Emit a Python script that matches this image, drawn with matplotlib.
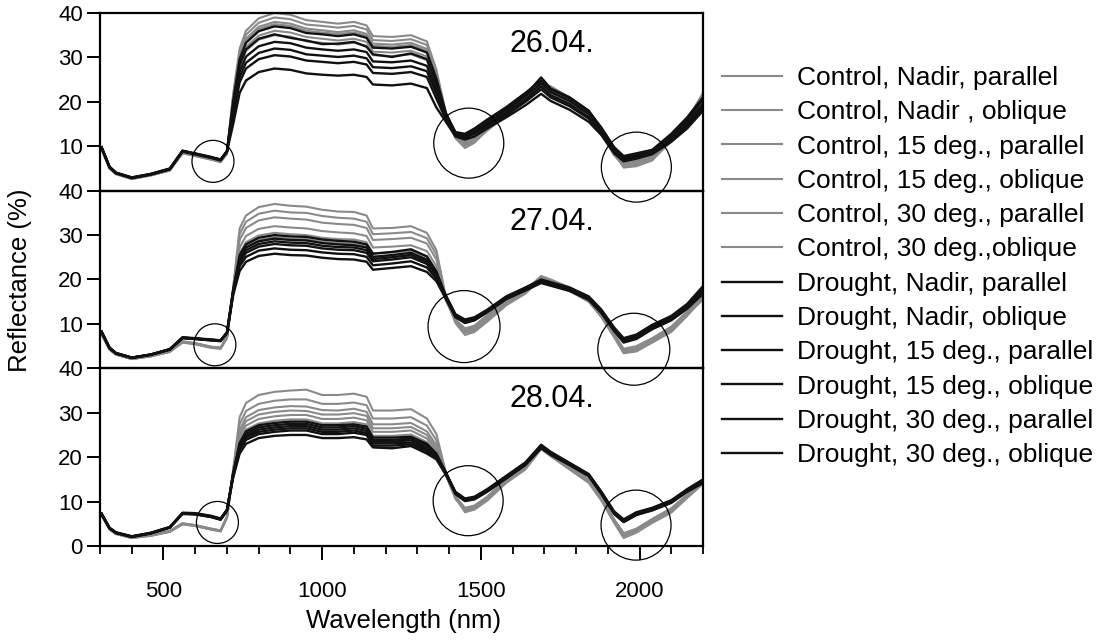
import matplotlib
matplotlib.use('Agg')
import matplotlib.pyplot as plt
from matplotlib.patches import Circle
from matplotlib.transforms import ScaledTranslation
from matplotlib.lines import Line2D
from matplotlib.ticker import MultipleLocator, FixedLocator

plt.rcParams['font.family'] = ['Liberation Sans', 'DejaVu Sans']

# ---------------- data ----------------
wavelength = [305, 330, 350, 400, 460, 520, 560, 600, 650, 680, 700,
              720, 740, 760, 800, 850, 900, 950, 1000, 1050, 1100, 1140, 1160, 1220, 1280, 1330, 1360,
              1390, 1420, 1450, 1480, 1520, 1580, 1640, 1690, 1720, 1780, 1840, 1880, 1920, 1950, 1990,
              2040, 2100, 2150, 2200]

series_labels = ["Control, Nadir, parallel", "Control, Nadir , oblique",
                 "Control, 15 deg., parallel", "Control, 15 deg., oblique",
                 "Control, 30 deg., parallel", "Control, 30 deg.,oblique",
                 "Drought, Nadir, parallel", "Drought, Nadir, oblique",
                 "Drought, 15 deg., parallel", "Drought, 15 deg., oblique",
                 "Drought, 30 deg., parallel", "Drought, 30 deg., oblique"]

dates = ["26.04.", "27.04.", "28.04."]

# 26.04.
c_np_26 = [9.6,5.2,3.9,2.8,3.6,4.7,8.8,8.1,7.3,6.8,8.8, 22.0,32.0,36.0,38.8,40.0,39.6,38.4,38.0,37.6,38.0,37.2,34.8,34.6,35.0,33.6,27.2, 17.5,12.0,10.0,11.0,13.5,17.0,20.5,24.5,22.5,20.0,17.0,13.0,8.0,5.5,5.8,7.0,11.0,15.0,20.5]
c_no_26 = [9.4,5.0,3.8,2.7,3.5,4.6,8.6,7.9,7.1,6.6,8.6, 21.5,31.2,35.1,37.8,39.0,38.6,37.4,37.1,36.7,37.1,36.3,33.9,33.7,34.1,32.8,26.5, 17.0,11.8,9.6,10.8,13.8,17.5,21.0,25.0,23.0,20.5,17.5,13.5,8.5,5.2,5.5,6.8,11.5,15.5,21.0]
c_15p_26 = [9.5,5.1,3.8,2.7,3.5,4.6,8.5,7.8,7.0,6.5,8.4, 20.9,30.4,34.2,36.9,38.0,37.6,36.5,36.1,35.7,36.1,35.3,33.1,32.9,33.3,31.9,25.8, 16.8,12.2,10.2,11.5,14.0,17.2,20.8,23.5,22.8,20.2,17.2,13.2,8.2,5.8,6.2,7.4,11.2,15.2,19.5]
c_15o_26 = [9.3,5.0,3.7,2.6,3.4,4.5,8.4,7.8,7.0,6.4,8.3, 20.6,30.0,33.8,36.4,37.5,37.1,36.0,35.6,35.3,35.6,34.9,32.6,32.4,32.8,31.5,25.5, 17.2,12.5,10.5,11.8,14.5,17.8,21.5,24.0,23.5,21.0,18.0,13.8,8.8,6.0,6.5,7.8,12.0,16.0,22.0]
c_30p_26 = [9.5,5.1,3.9,2.8,3.6,4.7,8.6,8.0,7.2,6.7,8.6, 19.8,28.8,32.4,34.9,36.0,35.6,34.6,34.2,33.8,34.2,33.5,31.3,31.1,31.5,30.2,24.5, 16.5,12.0,10.8,12.0,14.2,17.0,20.0,23.0,22.0,19.8,16.8,13.0,8.0,6.2,6.8,8.0,11.8,15.0,20.0]
c_30o_26 = [9.4,5.0,3.8,2.7,3.5,4.6,8.5,7.9,7.1,6.6,8.5, 19.3,28.0,31.5,34.0,35.0,34.7,33.6,33.3,32.9,33.3,32.6,30.5,30.3,30.7,29.4,23.8, 16.6,12.3,11.0,12.2,14.5,17.5,20.5,23.8,22.4,20.4,17.4,13.5,8.6,6.5,7.0,8.2,12.2,15.8,21.5]
d_np_26 = [9.7,5.3,4.0,2.9,3.7,4.9,8.9,8.3,7.5,7.0,8.9, 20.4,29.6,33.3,35.9,37.0,36.6,35.5,35.2,34.8,35.2,34.4,32.2,32.0,32.4,31.1,25.2, 17.5,13.0,12.5,13.5,15.5,18.5,21.5,25.5,23.0,21.0,18.0,14.0,9.5,7.5,8.0,9.0,12.5,16.0,20.5]
d_no_26 = [9.8,5.4,4.0,2.9,3.7,4.8,8.8,8.2,7.4,6.9,8.8, 19.5,28.3,31.8,34.2,35.2,34.4,33.8,33.0,33.1,33.5,32.4,30.7,30.1,30.9,29.6,24.0, 17.2,13.2,12.8,14.0,16.0,18.8,22.0,24.8,22.8,20.8,17.8,14.2,9.8,7.8,8.4,9.2,12.8,16.5,21.0]
d_15p_26 = [9.6,5.2,3.9,2.8,3.6,4.8,8.9,8.2,7.4,6.8,8.7, 18.4,26.8,30.2,32.5,33.5,33.2,32.2,31.8,31.5,31.8,31.2,29.1,28.9,29.3,28.1,22.8, 16.8,13.0,12.2,13.2,15.2,18.0,21.2,24.2,22.2,20.2,17.2,13.8,9.2,7.2,7.8,8.8,12.0,15.5,19.5]
d_15o_26 = [9.7,5.3,4.0,2.9,3.7,4.9,9.0,8.3,7.5,6.9,8.8, 17.6,25.6,28.8,31.0,32.0,31.7,30.7,30.4,30.1,30.4,29.8,27.8,27.6,28.0,26.9,21.8, 16.2,12.8,12.0,13.0,14.8,17.5,20.5,23.5,21.5,19.5,16.5,13.2,8.8,7.0,7.5,8.5,11.5,15.0,19.0]
d_30p_26 = [9.8,5.4,4.1,3.0,3.8,5.0,9.0,8.4,7.6,7.0,8.9, 16.8,24.4,27.5,29.6,30.5,30.2,29.3,29.0,28.7,29.0,28.4,26.5,26.3,26.7,25.6,20.7, 16.0,12.5,11.8,12.8,14.5,17.0,20.0,22.8,21.0,19.0,16.2,13.0,8.6,6.8,7.4,8.4,11.2,14.5,18.5]
d_30o_26 = [9.7,5.3,4.0,2.9,3.7,4.9,8.9,8.3,7.5,7.0,8.8, 15.1,22.0,24.8,26.7,27.5,27.2,26.4,26.1,25.9,26.1,25.6,23.9,23.7,24.1,23.1,18.7, 15.5,12.2,11.5,12.2,14.0,16.5,19.2,21.8,20.2,18.2,15.5,12.5,8.4,6.6,7.2,8.2,11.0,14.0,18.0]

# 27.04.
c_np_27 = [7.8,4.3,3.2,2.2,2.8,3.8,6.0,5.6,4.8,4.6,7.0, 18.5,31.5,34.4,36.3,37.0,36.6,36.4,35.7,35.3,35.2,34.4,31.5,31.6,32.0,30.5,26.6, 16.0,10.5,8.0,8.5,10.8,14.5,17.0,20.5,19.8,18.0,15.5,12.0,7.5,3.8,4.0,6.0,8.5,12.0,15.5]
c_no_27 = [7.7,4.2,3.1,2.1,2.7,3.7,5.9,5.5,4.7,4.5,6.9, 18.2,30.2,33.0,34.8,35.5,35.1,35.0,34.3,33.9,33.7,33.0,30.2,30.4,30.7,29.3,25.6, 15.8,10.2,7.5,8.2,10.5,14.2,16.8,20.2,19.5,17.6,15.2,11.5,7.0,3.4,3.8,5.8,8.2,11.8,16.0]
c_15p_27 = [7.9,4.4,3.2,2.2,2.8,3.9,6.1,5.7,4.9,4.7,7.1, 18.0,28.9,31.6,33.3,34.0,33.7,33.5,32.8,32.5,32.3,31.6,28.9,29.1,29.4,28.1,24.5, 15.5,10.8,8.3,8.8,11.2,14.8,17.5,20.8,20.0,18.2,15.8,12.2,7.8,4.2,4.5,6.5,9.0,12.5,16.5]
c_15o_27 = [7.6,4.2,3.1,2.1,2.7,3.7,5.8,5.4,4.6,4.4,6.8, 17.6,27.2,29.8,31.4,32.0,31.7,31.5,30.9,30.6,30.4,29.8,27.2,27.4,27.7,26.4,23.0, 15.6,10.6,8.6,9.0,11.5,15.0,17.2,20.0,19.2,17.8,15.4,12.0,7.4,3.6,4.2,6.2,8.8,12.2,15.8]
c_30p_27 = [7.8,4.3,3.2,2.2,2.8,3.8,6.0,5.6,4.8,4.6,7.0, 17.4,25.9,28.4,29.9,30.5,30.2,30.0,29.4,29.1,29.0,28.4,25.9,26.1,26.4,25.2,22.0, 15.4,10.8,8.8,9.4,11.8,15.2,17.6,20.2,19.4,17.6,15.0,11.8,7.2,4.0,4.6,6.6,9.2,12.6,16.2]
c_30o_27 = [7.7,4.3,3.1,2.1,2.7,3.8,5.9,5.5,4.7,4.5,6.9, 17.0,25.1,27.4,28.9,29.5,29.2,29.1,28.5,28.2,28.0,27.4,25.1,25.2,25.5,24.3,21.2, 15.2,11.0,9.0,9.6,12.0,15.0,17.2,19.8,19.0,17.4,15.0,11.6,7.6,4.4,5.0,6.8,9.4,12.8,16.0]
d_np_27 = [8.2,4.6,3.4,2.4,3.1,4.3,6.9,6.7,6.4,6.3,8.0, 17.8,25.5,27.9,29.4,30.0,29.7,29.6,29.0,28.7,28.5,27.9,25.8,26.2,26.8,25.2,21.8, 16.2,12.0,10.8,11.2,13.0,16.0,18.0,19.5,19.0,17.8,15.8,12.8,8.8,6.5,7.2,9.5,11.5,14.0,17.5]
d_no_27 = [8.3,4.7,3.5,2.4,3.1,4.3,7.0,6.8,6.5,6.3,8.1, 17.6,24.8,27.2,28.6,29.2,28.9,28.8,28.2,27.9,27.7,27.2,25.1,25.5,26.0,24.5,21.4, 16.0,11.8,10.5,11.0,12.8,15.8,17.8,19.8,19.2,18.0,16.0,13.0,9.0,6.2,7.0,9.2,11.2,13.8,17.0]
d_15p_27 = [8.1,4.6,3.4,2.4,3.1,4.2,6.8,6.6,6.3,6.2,7.9, 17.5,24.3,26.6,28.0,28.6,28.3,28.2,27.6,27.3,27.2,26.6,24.6,25.0,25.5,24.0,21.0, 16.4,12.2,11.0,11.5,13.2,16.2,18.2,20.0,19.4,18.2,16.2,13.2,9.2,6.8,7.6,9.8,11.8,14.5,18.5]
d_15o_27 = [8.2,4.6,3.4,2.4,3.1,4.3,6.9,6.7,6.4,6.2,8.0, 17.3,23.8,26.0,27.4,28.0,27.7,27.6,27.0,26.7,26.6,26.0,24.1,24.5,25.0,23.5,20.7, 15.8,11.6,10.2,10.8,12.6,15.6,17.6,19.4,18.8,17.6,15.6,12.6,8.6,6.0,6.8,9.0,11.0,13.6,17.2]
d_30p_27 = [8.2,4.6,3.4,2.4,3.1,4.3,6.9,6.7,6.4,6.3,8.0, 17.0,23.0,25.1,26.5,27.0,26.7,26.6,26.1,25.8,25.7,25.1,23.2,23.6,24.1,22.7,20.2, 16.0,11.9,10.6,11.1,12.9,15.9,17.9,19.6,19.0,17.9,15.9,12.9,8.9,6.4,7.4,9.6,11.6,14.2,18.0]
d_30o_27 = [8.1,4.5,3.3,2.3,3.0,4.2,6.8,6.6,6.3,6.1,7.9, 16.6,21.9,24.0,25.3,25.8,25.5,25.4,24.9,24.6,24.5,24.0,22.2,22.6,23.0,21.7,19.6, 15.6,11.5,10.3,10.9,12.7,15.6,17.5,19.2,18.6,17.4,15.4,12.4,8.4,5.8,6.6,8.8,10.8,13.4,16.8]

# 28.04.
c_np_28 = [7.0,3.8,2.8,1.9,2.4,3.3,5.0,4.6,3.8,3.4,6.5, 17.5,29.0,32.2,34.0,34.7,35.0,35.2,34.0,34.0,34.3,33.6,30.5,30.5,30.8,28.7,25.2, 16.5,11.0,7.6,8.2,10.2,14.2,17.2,21.8,20.2,17.2,14.2,10.2,5.2,1.8,3.0,5.2,7.5,10.8,14.0]
c_no_28 = [7.1,3.9,2.9,2.0,2.5,3.4,5.1,4.7,3.9,3.5,6.6, 17.2,27.4,30.4,32.0,32.7,33.0,33.0,32.0,32.0,32.3,31.7,28.7,28.7,29.0,27.1,23.8, 16.2,10.8,7.8,8.5,10.5,14.5,17.5,22.0,20.5,17.5,14.5,10.5,5.5,2.2,3.3,5.5,7.8,11.0,14.2]
c_15p_28 = [6.9,3.7,2.7,1.8,2.3,3.2,4.9,4.5,3.7,3.3,6.4, 17.0,26.1,29.0,30.6,31.2,31.5,31.4,30.6,30.5,30.9,30.2,27.4,27.4,27.7,25.8,22.7, 16.0,10.6,8.0,8.8,10.8,14.8,17.8,22.2,20.6,17.8,14.8,10.8,5.8,2.6,3.6,5.8,8.0,11.2,14.4]
c_15o_28 = [7.0,3.8,2.8,1.9,2.4,3.3,5.0,4.6,3.8,3.4,6.5, 16.8,25.3,28.1,29.6,30.2,30.5,30.4,29.6,29.6,29.9,29.3,26.5,26.5,26.8,25.0,22.0, 16.3,11.2,8.4,9.0,11.0,15.0,18.0,22.5,20.8,18.0,15.0,11.0,6.0,2.8,3.8,6.0,8.4,11.5,14.6]
c_30p_28 = [7.1,3.9,2.8,1.9,2.4,3.4,5.1,4.7,3.9,3.5,6.6, 16.6,24.5,27.1,28.6,29.2,29.5,29.5,28.6,28.6,28.9,28.3,25.7,25.7,26.0,24.2,21.5, 16.0,10.9,8.2,8.7,10.7,14.7,17.7,22.0,20.4,17.6,14.6,10.6,5.6,2.4,3.4,5.6,8.0,11.2,14.2]
c_30o_28 = [6.9,3.8,2.7,1.8,2.3,3.2,4.9,4.5,3.7,3.3,6.4, 16.4,23.7,26.2,27.6,28.2,28.5,28.5,27.6,27.6,27.9,27.4,24.8,24.8,25.1,23.4,21.0, 15.8,11.1,8.6,9.1,11.1,15.1,18.1,22.2,20.6,17.9,14.9,10.9,5.9,2.9,3.9,6.1,8.5,11.6,14.5]
d_np_28 = [7.2,4.0,3.0,2.1,2.9,4.2,7.3,7.2,6.6,6.0,8.0, 16.5,23.2,25.8,27.2,27.7,28.0,28.0,27.2,27.2,27.4,26.9,24.4,24.4,24.6,23.0,20.8, 16.5,12.0,10.4,10.8,12.5,15.5,18.5,22.5,21.0,18.5,16.0,12.0,7.5,5.6,7.2,8.3,10.0,12.5,14.5]
d_no_28 = [7.3,4.1,3.0,2.1,2.9,4.2,7.4,7.3,6.7,6.1,8.1, 16.4,22.8,25.3,26.7,27.2,27.5,27.5,26.7,26.7,27.0,26.4,23.9,23.9,24.2,22.6,20.6, 16.3,12.2,10.7,11.1,12.8,15.8,18.8,22.8,21.2,18.7,16.2,12.2,7.8,6.0,7.6,8.6,10.3,12.8,15.0]
d_15p_28 = [7.1,4.0,2.9,2.0,2.8,4.1,7.2,7.1,6.5,5.9,7.9, 16.2,22.4,24.8,26.2,26.7,27.0,27.0,26.2,26.2,26.5,25.9,23.5,23.5,23.8,22.1,20.3, 16.6,11.8,10.2,10.6,12.3,15.3,18.3,22.3,20.8,18.3,15.8,11.8,7.3,5.4,7.0,8.1,9.8,12.3,14.3]
d_15o_28 = [7.2,4.0,3.0,2.1,2.9,4.2,7.3,7.2,6.6,6.0,8.0, 16.0,22.0,24.4,25.7,26.2,26.5,26.5,25.7,25.7,26.0,25.4,23.1,23.1,23.3,21.7,20.0, 16.4,12.1,10.5,10.9,12.6,15.6,18.6,22.6,21.1,18.6,16.1,12.1,7.6,5.8,7.4,8.5,10.2,12.6,14.8]
d_30p_28 = [7.3,4.1,3.1,2.2,3.0,4.3,7.5,7.4,6.8,6.2,8.2, 15.8,21.6,23.9,25.2,25.7,26.0,26.0,25.2,25.2,25.5,25.0,22.6,22.6,22.9,21.3,19.8, 16.2,11.9,10.3,10.7,12.4,15.4,18.4,22.4,20.9,18.4,15.9,11.9,7.4,5.5,7.1,8.2,9.9,12.4,14.6]
d_30o_28 = [7.2,4.0,3.0,2.1,2.9,4.2,7.3,7.2,6.6,6.0,8.0, 15.5,20.8,23.0,24.3,24.8,25.0,25.0,24.3,24.3,24.5,24.0,22.2,22.0,22.5,20.8,19.5, 16.0,11.7,10.1,10.5,12.2,15.2,18.2,22.0,20.5,18.2,15.7,11.7,7.2,5.4,7.0,8.0,9.7,12.2,14.2]

# circles marking absorption features: (wavelength, reflectance, radius in px)
circles_26 = [(656, 6.6, 21), (1462, 10.7, 35), (1990, 5.3, 35)]
circles_27 = [(662, 5.3, 21), (1447, 9.4, 36), (1982, 4.3, 36)]
circles_28 = [(670, 5.3, 21), (1460, 10.2, 35), (1989, 4.7, 35)]

panels = [
    ([c_np_26, c_no_26, c_15p_26, c_15o_26, c_30p_26, c_30o_26,
      d_np_26, d_no_26, d_15p_26, d_15o_26, d_30p_26, d_30o_26], circles_26),
    ([c_np_27, c_no_27, c_15p_27, c_15o_27, c_30p_27, c_30o_27,
      d_np_27, d_no_27, d_15p_27, d_15o_27, d_30p_27, d_30o_27], circles_27),
    ([c_np_28, c_no_28, c_15p_28, c_15o_28, c_30p_28, c_30o_28,
      d_np_28, d_no_28, d_15p_28, d_15o_28, d_30p_28, d_30o_28], circles_28),
]

# ---------------- styling ----------------
ctrl_color = '#8a8a8a'
drought_color = '#111111'
styles = [dict(color=ctrl_color, lw=1.5)] * 6 + [dict(color=drought_color, lw=1.7)] * 6

W, H = 1103, 640
fig = plt.figure(figsize=(W / 100, H / 100), dpi=100)
left, width = 100 / W, 603 / W
top_px, bot_px = 13, 546
ph = (bot_px - top_px) / 3

for i, (series, circs) in enumerate(panels):
    y0 = 1 - (top_px + (i + 1) * ph) / H
    ax = fig.add_axes([left, y0, width, ph / H])
    ax.set_facecolor('none')
    for s, st in zip(series, styles):
        ax.plot(wavelength, s, solid_joinstyle='round', **st)
    ax.set_xlim(300, 2200)
    ax.set_ylim(0, 40)
    ax.yaxis.set_major_locator(FixedLocator([0, 10, 20, 30, 40] if i == 2 else [10, 20, 30, 40]))
    ax.tick_params(axis='y', direction='out', length=9.4, width=1.4, labelsize=16, pad=3)
    for sp in ax.spines.values():
        sp.set_linewidth(1.6)
    if i < 2:
        ax.tick_params(axis='x', which='both', bottom=False, labelbottom=False)
    else:
        ax.xaxis.set_major_locator(FixedLocator([500, 1000, 1500, 2000]))
        ax.xaxis.set_minor_locator(MultipleLocator(100))
        ax.tick_params(axis='x', which='major', direction='out', length=10, width=1.4, labelsize=16, pad=15)
        ax.tick_params(axis='x', which='minor', direction='out', length=5.8, width=1.3)
    ax.text(1724, 33, dates[i], fontsize=22, ha='center', va='center')
    for (cx, cy, r) in circs:
        c = Circle((0, 0), r / 100.0,
                   transform=fig.dpi_scale_trans + ScaledTranslation(cx, cy, ax.transData),
                   fill=False, ec='black', lw=0.9, clip_on=False, zorder=5)
        ax.add_artist(c)

fig.text(20 / W, 1 - 280 / H, 'Reflectance (%)', rotation=90, ha='center', va='center', fontsize=18.5)
fig.text(404 / W, 1 - 621 / H, 'Wavelength (nm)', ha='center', va='center', fontsize=18.5)

handles = [Line2D([], [], **st) for st in styles]
fig.legend(handles, series_labels, loc='upper left', bbox_to_anchor=(722 / W, 1 - 66 / H),
           frameon=False, fontsize=19, handlelength=2.27, handletextpad=0.57,
           labelspacing=0.39, borderaxespad=0, borderpad=0)

fig.savefig('out.png', dpi=100)
